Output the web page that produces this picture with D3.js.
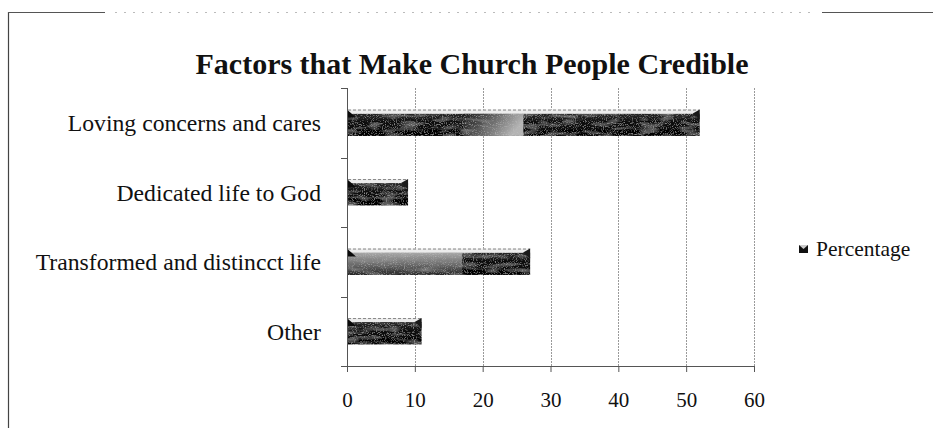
<!DOCTYPE html>
<html>
<head>
<meta charset="utf-8">
<script src="https://cdn.jsdelivr.net/npm/d3@7"></script>
<style>
  html, body { margin: 0; padding: 0; background: #fff; }
  svg { display: block; }
  text { font-family: "Liberation Serif", "Times New Roman", serif; fill: #111; }
</style>
</head>
<body>
<svg id="chart" width="933" height="428"></svg>
<script>
// Survey results: share of respondents naming each factor
const categories = [
  "Loving concerns and cares",
  "Dedicated life to God",
  "Transformed and distincct life",
  "Other"
];
const percentages = [52, 9, 27, 11];
const xTicks = [0, 10, 20, 30, 40, 50, 60];
const seriesName = "Percentage";
const chartTitle = "Factors that Make Church People Credible";

// Lighter sheen on some bars (start/end in axis units)
const sheen = [
  { c: "Loving concerns and cares", from: 17, to: 26, grad: "sheenRise" },
  { c: "Transformed and distincct life", from: 0, to: 17, grad: "sheenFlat" }
];

const svg = d3.select("#chart");
const W = 933;
const plot = { left: 347, right: 754, top: 88, bottom: 366 };

// Outer frame of the chart area
const frame = svg.append("g");
frame.append("line").attr("x1", 8.5).attr("x2", 8.5).attr("y1", 12).attr("y2", 428)
  .attr("stroke", "#444").attr("stroke-width", 1.2);
frame.append("line").attr("x1", 8).attr("x2", 105).attr("y1", 12.5).attr("y2", 12.5)
  .attr("stroke", "#555").attr("stroke-width", 1);
frame.append("line").attr("x1", 115).attr("x2", 815).attr("y1", 12.5).attr("y2", 12.5)
  .attr("stroke", "#bbb").attr("stroke-width", 1).attr("stroke-dasharray", "2 7");
frame.append("line").attr("x1", 822).attr("x2", W).attr("y1", 12.5).attr("y2", 12.5)
  .attr("stroke", "#555").attr("stroke-width", 1);

// Title
svg.append("text")
  .attr("x", 472).attr("y", 74)
  .attr("text-anchor", "middle")
  .style("font-size", "30px").style("font-weight", "bold")
  .text(chartTitle);

const x = d3.scaleLinear().domain([0, 60]).range([plot.left, plot.right]);
const y = d3.scaleBand().domain(categories).range([plot.top, plot.bottom])
  .paddingInner(0.62).paddingOuter(0.31);

const defs = svg.append("defs");

// Grainy texture for the shaded bars
const grain = defs.append("filter").attr("id", "grain")
  .attr("x", "0").attr("y", "0").attr("width", "1").attr("height", "1");
grain.append("feTurbulence").attr("type", "fractalNoise")
  .attr("baseFrequency", "0.05 0.22").attr("numOctaves", 2).attr("seed", 3).attr("result", "blot");
grain.append("feColorMatrix").attr("in", "blot").attr("type", "matrix")
  .attr("values", "0 0 0 0 0.4  0 0 0 0 0.4  0 0 0 0 0.4  1.0 0 0 0 -0.5")
  .attr("result", "blotA");
grain.append("feTurbulence").attr("type", "fractalNoise")
  .attr("baseFrequency", "0.9").attr("numOctaves", 1).attr("seed", 11).attr("result", "fine");
grain.append("feColorMatrix").attr("in", "fine").attr("type", "matrix")
  .attr("values", "0 0 0 0 0.6  0 0 0 0 0.6  0 0 0 0 0.6  1.6 0 0 0 -0.85")
  .attr("result", "fineA");
grain.append("feComposite").attr("in", "blotA").attr("in2", "SourceGraphic").attr("operator", "atop").attr("result", "b1");
grain.append("feComposite").attr("in", "fineA").attr("in2", "b1").attr("operator", "atop");

const body = defs.append("linearGradient").attr("id", "barBody")
  .attr("x1", 0).attr("x2", 0).attr("y1", 0).attr("y2", 1);
body.append("stop").attr("offset", "0").attr("stop-color", "#2a2a2a");
body.append("stop").attr("offset", "0.4").attr("stop-color", "#0e0e0e");
body.append("stop").attr("offset", "1").attr("stop-color", "#000");

const rise = defs.append("linearGradient").attr("id", "sheenRise")
  .attr("x1", 0).attr("x2", 1).attr("y1", 0).attr("y2", 0.3);
rise.append("stop").attr("offset", "0").attr("stop-color", "#1a1a1a");
rise.append("stop").attr("offset", "0.45").attr("stop-color", "#5a5a5a");
rise.append("stop").attr("offset", "1").attr("stop-color", "#b4b4b4");

const flat = defs.append("linearGradient").attr("id", "sheenFlat")
  .attr("x1", 0).attr("x2", 0).attr("y1", 0).attr("y2", 1);
flat.append("stop").attr("offset", "0").attr("stop-color", "#a8a8a8");
flat.append("stop").attr("offset", "0.55").attr("stop-color", "#6a6a6a");
flat.append("stop").attr("offset", "1").attr("stop-color", "#262626");

// Vertical gridlines
svg.append("g").selectAll("line").data(xTicks.slice(1)).join("line")
  .attr("x1", d => Math.round(x(d)) + 0.5).attr("x2", d => Math.round(x(d)) + 0.5)
  .attr("y1", plot.top).attr("y2", plot.bottom)
  .attr("stroke", "#9a9a9a").attr("stroke-width", 1).attr("stroke-dasharray", "2 1");

// Bars
const data = categories.map((c, i) => ({ c, v: percentages[i] }));
const bar = svg.append("g").selectAll("g").data(data).join("g");
const topH = 4;
bar.append("rect")
  .attr("x", x(0) + 1).attr("y", d => y(d.c) + topH)
  .attr("width", d => x(d.v) - x(0) - 1).attr("height", y.bandwidth() - topH)
  .attr("fill", "url(#barBody)").attr("filter", "url(#grain)");
// lighter sheen patches
bar.each(function(d) {
  sheen.filter(s => s.c === d.c).forEach(s => {
    d3.select(this).append("rect")
      .attr("x", x(s.from) + 1).attr("y", y(d.c) + topH)
      .attr("width", x(Math.min(s.to, d.v)) - x(s.from) - 1)
      .attr("height", y.bandwidth() - topH)
      .attr("fill", `url(#${s.grad})`).attr("filter", "url(#grain)");
  });
});
// top face of the bar
bar.append("rect")
  .attr("x", x(0) + 1).attr("y", d => y(d.c))
  .attr("width", d => x(d.v) - x(0) - 1).attr("height", topH)
  .attr("fill", "#ececec");
bar.append("line")
  .attr("x1", x(0) + 1).attr("x2", d => x(d.v))
  .attr("y1", d => y(d.c) + 0.5).attr("y2", d => y(d.c) + 0.5)
  .attr("stroke", "#888").attr("stroke-width", 1).attr("stroke-dasharray", "3 2");
// bevelled corners
bar.append("path")
  .attr("d", d => {
    const x1 = x(d.v), y0 = y(d.c);
    return `M${x1 - 7},${y0 + topH} L${x1},${y0} L${x1},${y0 + topH + 6} Z`;
  })
  .attr("fill", "#1a1a1a");
bar.append("path")
  .attr("d", d => {
    const x0 = x(0) + 1, y0 = y(d.c);
    return `M${x0},${y0 + 1} L${x0 + 8},${y0 + topH + 4} L${x0},${y0 + topH + 4} Z`;
  })
  .attr("fill", "#0a0a0a");

// Axes
const xAxis = d3.axisBottom(x).tickValues(xTicks).tickSize(6).tickPadding(20);
const gx = svg.append("g").attr("transform", `translate(0,${plot.bottom})`).call(xAxis);
gx.select(".domain").attr("d", `M${plot.left - 6},0.5H${plot.right}`).attr("stroke", "#555");
gx.selectAll(".tick line").attr("stroke", "#555");
gx.selectAll(".tick text").style("font-size", "21px")
  .style("font-family", "'Liberation Serif', serif").attr("fill", "#111");

const gy = svg.append("g");
gy.append("line")
  .attr("x1", plot.left + 0.5).attr("x2", plot.left + 0.5)
  .attr("y1", plot.top).attr("y2", plot.bottom)
  .attr("stroke", "#555");
const boundaries = d3.range(categories.length).map(i => plot.top + i * (plot.bottom - plot.top) / categories.length);
gy.selectAll("line.tk").data(boundaries).join("line").attr("class", "tk")
  .attr("x1", plot.left - 6).attr("x2", plot.left)
  .attr("y1", d => Math.round(d) + 0.5).attr("y2", d => Math.round(d) + 0.5)
  .attr("stroke", "#555");
gy.selectAll("text").data(categories).join("text")
  .attr("x", plot.left - 26)
  .attr("y", d => y(d) + y.bandwidth() / 2)
  .attr("dy", "0.35em")
  .attr("text-anchor", "end")
  .style("font-size", "23.7px")
  .text(d => d);

// Legend
const legend = svg.append("g").attr("transform", "translate(799,249)");
legend.append("rect").attr("x", 0).attr("y", -4).attr("width", 9).attr("height", 8)
  .attr("fill", "#111");
legend.append("path").attr("d", "M0,-4 L4.5,0 L9,-4 Z").attr("fill", "#ccc");
legend.append("text").attr("x", 17).attr("y", 0).attr("dy", "0.33em")
  .style("font-size", "21.5px").text(seriesName);
</script>
</body>
</html>
